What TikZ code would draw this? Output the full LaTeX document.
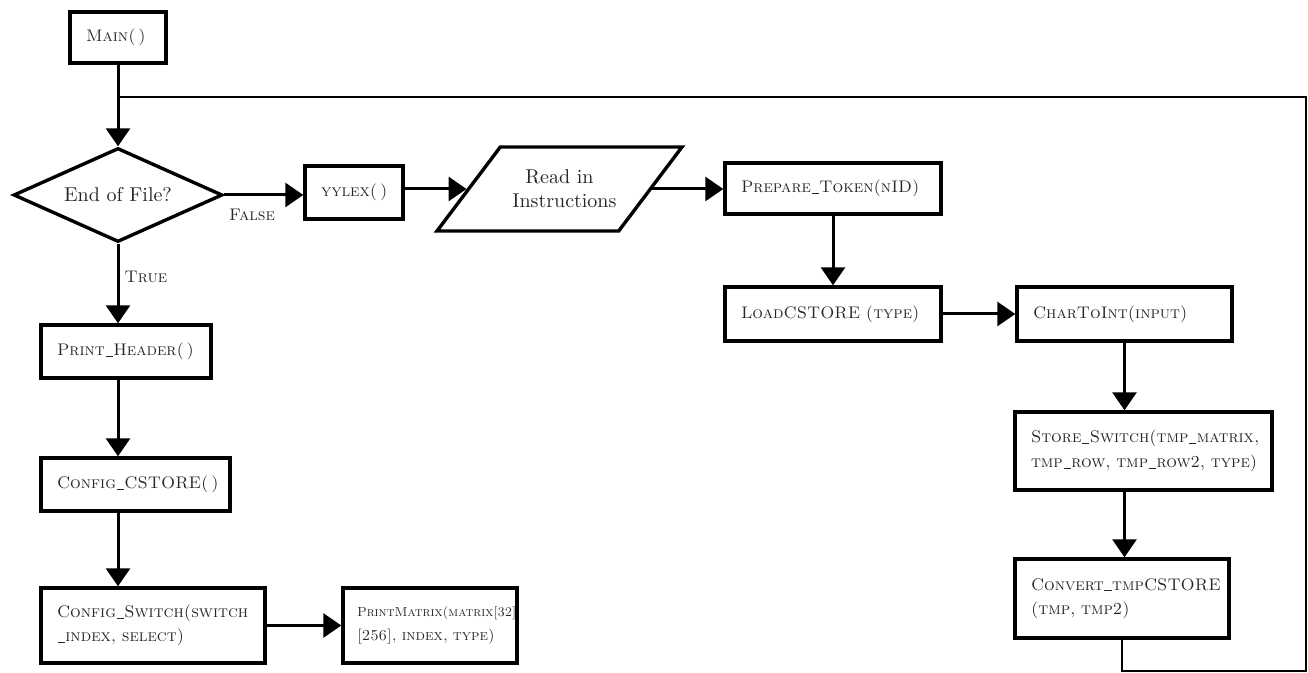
\documentclass[tikz,border=0pt]{standalone}
\usetikzlibrary{shapes.geometric,arrows.meta}
% short baseline underscore for identifiers
\newcommand{\usc}{\kern0.04em\rule[-0.12ex]{0.42em}{0.45pt}\kern0.04em}
% a line that may run past the text width without moving
\newcommand{\lline}[1]{\makebox[\linewidth][l]{#1}}
\begin{document}
\begin{tikzpicture}[x=0.5pt,y=-0.5pt,
  fbox/.style={draw, rectangle, line width=1.7pt, inner xsep=8pt, inner ysep=0pt,
    align=left, font=\fontsize{8.4}{12.2}\selectfont\scshape, text=black!85},
  flow/.style={line width=1.5pt, -{Triangle[length=9pt,width=12pt]}},
  loopline/.style={line width=1.3pt},
  lbl/.style={font=\fontsize{8.4}{10}\selectfont\scshape, text=black!85, inner sep=0pt}]
\useasboundingbox (0,0) rectangle (1308,673);

% left column
\node[fbox, text width=32pt, minimum height=25.5pt] (main) at (118,37.5) {Main(\,)};
\node[draw, diamond, line width=1.7pt, inner sep=0pt, aspect=2.2,
      minimum width=104.5pt, minimum height=47pt, text=black!85] (eof) at (118,195) {End of File?};
\node[fbox, text width=69pt, minimum height=26.5pt] (prhead) at (126,351.5) {Print\usc Header(\,)};
\node[fbox, text width=78.5pt, minimum height=26.5pt] (cfgc) at (135.5,484.5) {Config\usc CSTORE(\,)};
\node[fbox, text width=96pt, minimum height=37.5pt] (cfgs) at (153,625.5)
  {\lline{Config\usc Switch(switch}\\\lline{\usc index, select)}};
\node[fbox, text width=73pt, inner xsep=7pt, minimum height=37.5pt,
      font=\fontsize{7.6}{12.2}\selectfont\scshape] (prmat) at (430,625.5)
  {\lline{\fontsize{6.6}{12.2}\selectfont PrintMatrix(matrix[32]}\\\lline{[256], index, type)}};

% top row
\node[fbox, text width=33pt, minimum height=26.5pt] (yylex) at (354,192.5) {yylex(\,)};
\node[draw, trapezium, trapezium left angle=53, trapezium right angle=127,
      line width=1.7pt, inner xsep=6pt, inner ysep=6pt, text=black!85] (read) at (559.5,189)
      {\parbox[c][30pt][c]{47.2pt}{\centering Read in\\Instructions}};
\node[fbox, text width=92pt, minimum height=25.5pt] (prep) at (833,188.5) {Prepare\usc Token(nID)};
\node[fbox, text width=92pt, minimum height=27pt] (loadc) at (833,314) {LoadCSTORE (type)};

% right column
\node[fbox, text width=91.5pt, minimum height=27pt] (char) at (1124.5,314) {CharToInt(input)};
\node[fbox, text width=112.5pt, minimum height=39pt] (store) at (1143.5,451)
  {\lline{Store\usc Switch(tmp\usc matrix,}\\\lline{tmp\usc row, tmp\usc row2, type)}};
\node[fbox, text width=91pt, minimum height=39.5pt] (conv) at (1122,598.5)
  {\lline{Convert\usc tmpCSTORE}\\\lline{(tmp, tmp2)}};

% branch labels
\node[lbl] (lfalse) at (252,215) {False};
\node[lbl] (ltrue) at (146,277) {True};

% loop back corners
\coordinate (loopbr) at (1306,671);
\coordinate (looptr) at (1306,97);
\coordinate (join) at (118,97);

% connectors
\draw[flow] (main.south) -- (eof.north);
\draw[flow] (eof.east) -- (eof.east -| yylex.west);
\draw[flow] (yylex.east |- read.west) -- (read.west);
\draw[flow] (read.east) -- (read.east -| prep.west);
\draw[flow] (prep.south) -- (loadc.north);
\draw[flow] (loadc.east) -- (char.west);
\draw[flow] (char.south) -- (char.south |- store.north);
\draw[flow] (char.south |- store.south) -- (char.south |- conv.north);
\draw[flow] (eof.south) -- (eof.south |- prhead.north);
\draw[flow] (eof.south |- prhead.south) -- (eof.south |- cfgc.north);
\draw[flow] (eof.south |- cfgc.south) -- (eof.south |- cfgs.north);
\draw[flow] (cfgs.east) -- (prmat.west);
\draw[loopline] (conv.south) |- (loopbr) -- (looptr) -- (join);
\end{tikzpicture}
\end{document}
